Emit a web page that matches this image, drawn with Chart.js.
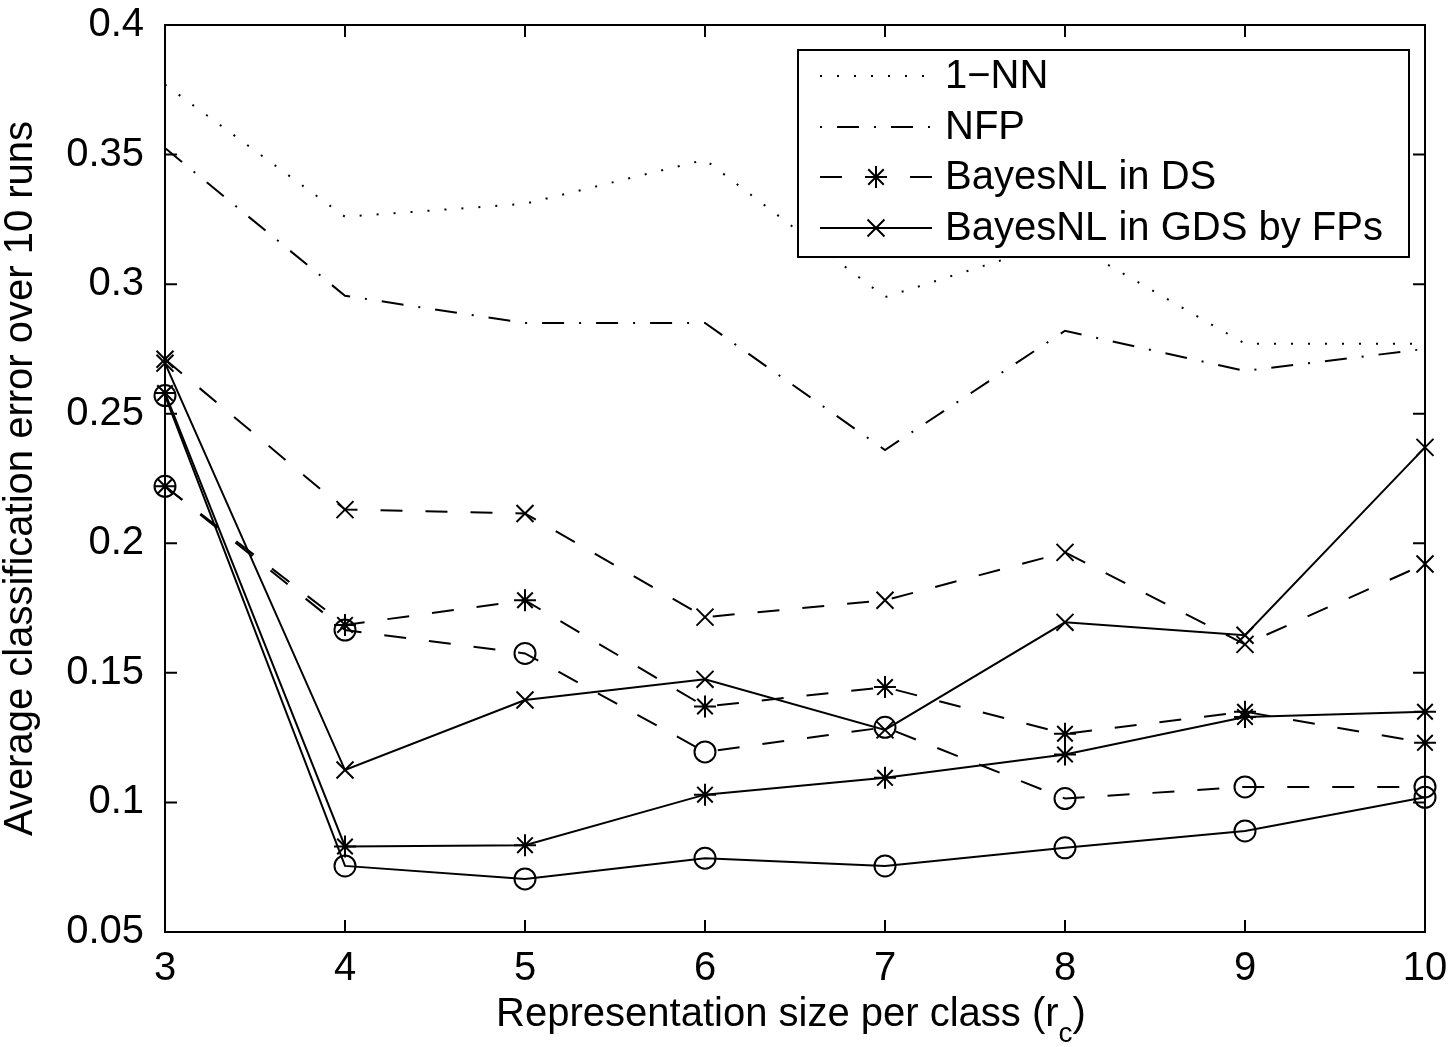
<!DOCTYPE html>
<html>
<head>
<meta charset="utf-8">
<script src="https://cdn.jsdelivr.net/npm/chart.js@4.4.1/dist/chart.umd.min.js"></script>
<style>
  body { margin: 0; background: #fff; }
  #wrap { width: 1452px; height: 1047px; }
</style>
</head>
<body>
<div id="wrap"><canvas id="err-chart" width="1452" height="1047"></canvas></div>
<script>
// representation size per class (r_c)
var xValues = [3, 4, 5, 6, 7, 8, 9, 10];
var xTicks = [3, 4, 5, 6, 7, 8, 9, 10];
var yTicks = [0.05, 0.1, 0.15, 0.2, 0.25, 0.3, 0.35, 0.4];
var yTickLabels = ["0.05", "0.1", "0.15", "0.2", "0.25", "0.3", "0.35", "0.4"];

// average classification error over 10 runs
var oneNN = [0.377, 0.326, 0.331, 0.348, 0.295, 0.317, 0.277, 0.277];
var nfp = [0.3525, 0.2955, 0.285, 0.285, 0.236, 0.282, 0.2665, 0.275];
var dsStar = [0.222, 0.1685, 0.178, 0.137, 0.1445, 0.1265, 0.135, 0.123];
var gdsCross = [0.2695, 0.1125, 0.1395, 0.1475, 0.128, 0.1695, 0.1645, 0.237];
var dsCross = [0.271, 0.213, 0.2115, 0.1715, 0.178, 0.1965, 0.161, 0.192];
var gdsStar = [0.258, 0.083, 0.0835, 0.103, 0.1095, 0.1185, 0.133, 0.135];
var dsCircle = [0.222, 0.1665, 0.1575, 0.1195, 0.129, 0.1015, 0.106, 0.106];
var gdsCircle = [0.257, 0.0755, 0.0705, 0.0785, 0.0755, 0.0825, 0.089, 0.102];

var legendLabels = ["1\u2212NN", "NFP", "BayesNL in DS", "BayesNL in GDS by FPs"];

var FONT = '"Liberation Sans", Arial, Helvetica, sans-serif';
var DOTTED = [2, 15];
var DASHDOT = [22, 15, 2, 15];
var DASHED = [22, 23];
var TICK = 12;

function toPoints(arr) {
  return arr.map(function (v, i) { return { x: xValues[i], y: v }; });
}

function series(label, values, dash, marker, radius) {
  return {
    label: label,
    data: toPoints(values),
    borderColor: "#000",
    borderWidth: 2,
    borderDash: dash,
    fill: false,
    tension: 0,
    clip: false,
    pointStyle: marker || "circle",
    pointRadius: marker ? radius : 0,
    pointHoverRadius: marker ? radius : 0,
    pointBorderColor: "#000",
    pointBackgroundColor: "rgba(0,0,0,0)",
    pointBorderWidth: 2,
  };
}

var datasets = [
  series("1-NN", oneNN, DOTTED),
  series("NFP", nfp, DASHDOT),
  series("BayesNL in DS", dsStar, DASHED, "star", 11),
  series("BayesNL in GDS by FPs", gdsCross, [], "crossRot", 12),
  series("DS x", dsCross, DASHED, "crossRot", 12),
  series("GDS *", gdsStar, [], "star", 11),
  series("DS o", dsCircle, DASHED, "circle", 10.5),
  series("GDS o", gdsCircle, [], "circle", 10.5),
];

function drawMarker(ctx, style, x, y, r) {
  ctx.beginPath();
  if (style === "circle") {
    ctx.arc(x, y, r, 0, Math.PI * 2);
  } else {
    var d = Math.cos(Math.PI / 4) * r;
    ctx.moveTo(x - d, y - d); ctx.lineTo(x + d, y + d);
    ctx.moveTo(x - d, y + d); ctx.lineTo(x + d, y - d);
    if (style === "star") {
      ctx.moveTo(x - r, y); ctx.lineTo(x + r, y);
      ctx.moveTo(x, y - r); ctx.lineTo(x, y + r);
    }
  }
  ctx.stroke();
}

// box round the axes, ticks pointing inward on all four sides
var framePlugin = {
  id: "frame",
  afterDatasetsDraw: function (chart) {
    var ctx = chart.ctx, a = chart.chartArea;
    var xs = chart.scales.x, ys = chart.scales.y;
    ctx.save();
    ctx.strokeStyle = "#000";
    ctx.lineWidth = 2;
    ctx.setLineDash([]);
    ctx.strokeRect(a.left, a.top, a.right - a.left, a.bottom - a.top);
    ctx.beginPath();
    xTicks.forEach(function (v) {
      var px = xs.getPixelForValue(v);
      ctx.moveTo(px, a.bottom); ctx.lineTo(px, a.bottom - TICK);
      ctx.moveTo(px, a.top); ctx.lineTo(px, a.top + TICK);
    });
    yTicks.forEach(function (v) {
      var py = ys.getPixelForValue(v);
      ctx.moveTo(a.left, py); ctx.lineTo(a.left + TICK, py);
      ctx.moveTo(a.right, py); ctx.lineTo(a.right - TICK, py);
    });
    ctx.stroke();

    // x axis title with subscript c
    var main = "Representation size per class (r";
    ctx.fillStyle = "#000";
    ctx.textBaseline = "alphabetic";
    ctx.textAlign = "left";
    ctx.font = "40px " + FONT;
    var w1 = ctx.measureText(main).width;
    var w3 = ctx.measureText(")").width;
    ctx.font = "28px " + FONT;
    var w2 = ctx.measureText("c").width;
    var x0 = (a.left + a.right) / 2 - (w1 + w2 + w3) / 2 - 4;
    ctx.font = "40px " + FONT;
    ctx.fillText(main, x0, 1026);
    ctx.font = "28px " + FONT;
    ctx.fillText("c", x0 + w1, 1042);
    ctx.font = "40px " + FONT;
    ctx.fillText(")", x0 + w1 + w2, 1026);
    ctx.restore();
  },
};

// legend in the upper right corner, first four series only
var legendPlugin = {
  id: "boxLegend",
  afterDraw: function (chart) {
    var ctx = chart.ctx;
    var box = { left: 798, top: 50, right: 1409, bottom: 257 };
    var rows = [76, 127, 177, 228];
    ctx.save();
    ctx.fillStyle = "#fff";
    ctx.fillRect(box.left, box.top, box.right - box.left, box.bottom - box.top);
    ctx.strokeStyle = "#000";
    ctx.lineWidth = 2;
    ctx.strokeRect(box.left, box.top, box.right - box.left, box.bottom - box.top);

    legendLabels.forEach(function (text, i) {
      var ds = chart.data.datasets[i];
      var y = rows[i];
      ctx.lineWidth = 2;
      ctx.setLineDash(ds.borderDash);
      ctx.lineDashOffset = ds.borderDash === DASHDOT ? 37 : 0;
      ctx.beginPath();
      ctx.moveTo(820, y);
      ctx.lineTo(932, y);
      ctx.stroke();
      ctx.setLineDash([]);
      ctx.lineDashOffset = 0;
      if (ds.pointRadius > 0) drawMarker(ctx, ds.pointStyle, 876, y, ds.pointRadius);
      ctx.fillStyle = "#000";
      ctx.font = "40px " + FONT;
      ctx.textAlign = "left";
      ctx.textBaseline = "middle";
      ctx.fillText(text, 945, y + 1);
    });
    ctx.restore();
  },
};

var config = {
  type: "line",
  data: { datasets: datasets },
  options: {
    responsive: false,
    animation: false,
    devicePixelRatio: 1,
    events: [],
    layout: { autoPadding: false, padding: { top: 25, right: 27, left: 0, bottom: 0 } },
    plugins: { legend: { display: false }, tooltip: { enabled: false } },
    scales: {
      x: {
        type: "linear",
        min: 3,
        max: 10,
        grid: { display: false },
        border: { display: false },
        afterBuildTicks: function (scale) {
          scale.ticks = xTicks.map(function (v) { return { value: v }; });
        },
        afterFit: function (scale) { scale.height = 115; },
        ticks: {
          color: "#000",
          padding: 4,
          font: { family: FONT, size: 40, lineHeight: 1.25 },
          maxRotation: 0,
          callback: function (v) { return String(v); },
        },
      },
      y: {
        type: "linear",
        min: 0.05,
        max: 0.4,
        grid: { display: false },
        border: { display: false },
        afterBuildTicks: function (scale) {
          scale.ticks = yTicks.map(function (v) { return { value: v }; });
        },
        afterFit: function (scale) { scale.width = 165; },
        ticks: {
          color: "#000",
          padding: 13,
          font: { family: FONT, size: 40, lineHeight: 0.6 },
          callback: function (v) {
            var i = yTicks.indexOf(v);
            return i >= 0 ? yTickLabels[i] : "";
          },
        },
        title: {
          display: true,
          text: "Average classification error over 10 runs",
          color: "#000",
          font: { family: FONT, size: 40, lineHeight: 1 },
          padding: { top: 1, bottom: 0 },
        },
      },
    },
  },
  plugins: [framePlugin, legendPlugin],
};

const ctx = document.getElementById("err-chart").getContext("2d");
const errChart = new Chart(ctx, config);
</script>
</body>
</html>
